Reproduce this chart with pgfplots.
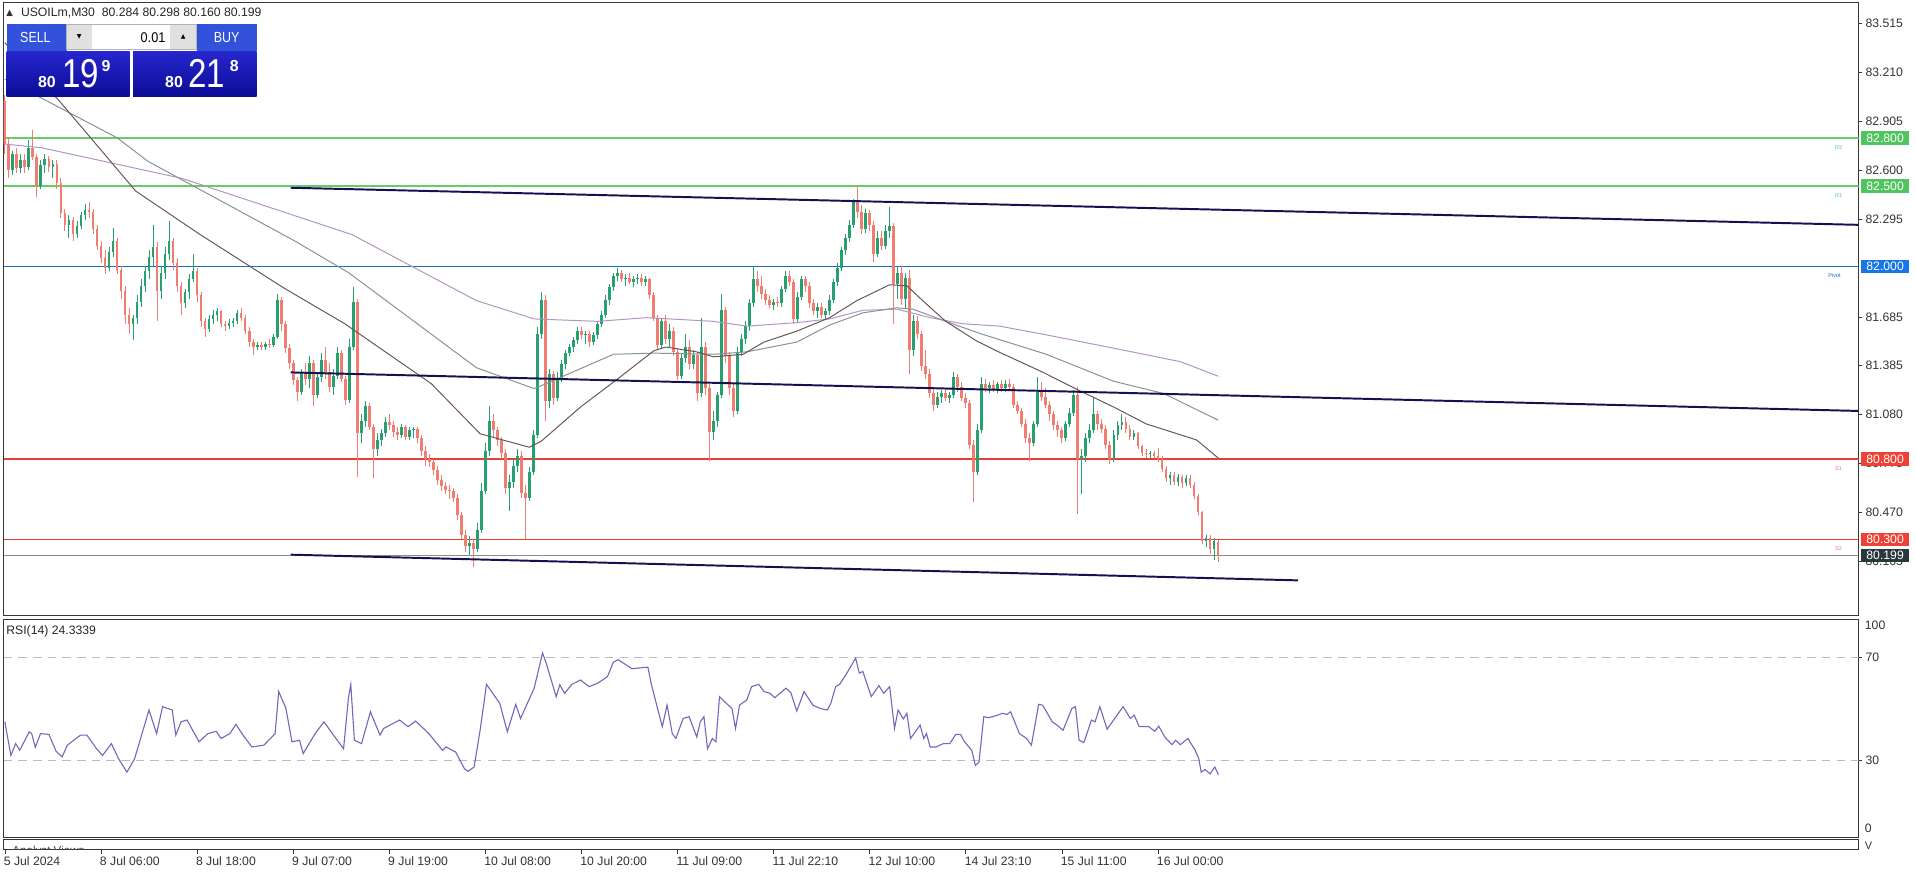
\documentclass[border=0pt]{standalone}
\usepackage{graphicx}
\usepackage{pgfplots}
\pgfplotsset{compat=1.18}
\usepackage{pgfplotstable}
\usepackage{fontspec}
\setmainfont{Liberation Sans}
\newfontfamily\dejavu{DejaVu Sans}

\definecolor{bullc}{RGB}{38,160,110}
\definecolor{bearc}{RGB}{240,125,112}
\definecolor{navyl}{RGB}{18,18,82}
\definecolor{greenl}{RGB}{102,204,102}
\definecolor{bluel}{RGB}{28,108,190}
\definecolor{redl}{RGB}{230,62,52}
\definecolor{maA}{RGB}{105,85,85}
\definecolor{maB}{RGB}{135,145,150}
\definecolor{maC}{RGB}{178,148,190}
\definecolor{rsic}{RGB}{118,102,186}
\definecolor{dashc}{RGB}{190,184,205}
\definecolor{framec}{RGB}{55,55,55}
\definecolor{gbox}{RGB}{80,196,96}
\definecolor{bbox}{RGB}{24,118,230}
\definecolor{rbox}{RGB}{236,66,56}
\definecolor{dbox}{RGB}{40,56,60}
\definecolor{btn}{RGB}{50,82,220}
\definecolor{pxtop}{RGB}{38,38,205}
\definecolor{pxbot}{RGB}{12,12,150}

\pgfplotstableread{
i o h l c
0 83.03 83.07 82.70 82.76
1 82.76 82.80 82.55 82.60
2 82.60 82.72 82.57 82.70
3 82.70 82.74 82.58 82.61
4 82.61 82.70 82.58 82.66
5 82.66 82.70 82.58 82.62
6 82.62 82.79 82.60 82.74
7 82.74 82.85 82.66 82.68
8 82.68 82.70 82.43 82.50
9 82.50 82.66 82.48 82.63
10 82.63 82.70 82.58 82.67
11 82.67 82.69 82.59 82.62
12 82.62 82.66 82.55 82.64
13 82.64 82.66 82.48 82.52
14 82.52 82.55 82.30 82.33
15 82.33 82.36 82.22 82.26
16 82.26 82.32 82.18 82.29
17 82.29 82.31 82.16 82.20
18 82.20 82.28 82.18 82.25
19 82.25 82.34 82.23 82.32
20 82.32 82.39 82.29 82.35
21 82.35 82.40 82.30 82.34
22 82.34 82.36 82.20 82.23
23 82.23 82.26 82.10 82.13
24 82.13 82.16 82.02 82.05
25 82.05 82.10 81.95 81.99
26 81.99 82.12 81.97 82.09
27 82.09 82.24 82.06 82.16
28 82.16 82.18 81.95 81.98
29 81.98 82.00 81.80 81.85
30 81.85 81.88 81.64 81.70
31 81.70 81.74 81.58 81.64
32 81.64 81.70 81.54 81.68
33 81.68 81.82 81.64 81.78
34 81.78 81.92 81.75 81.88
35 81.88 82.00 81.84 81.97
36 81.97 82.10 81.92 82.06
37 82.06 82.26 82.00 82.12
38 82.12 82.15 81.66 81.85
39 81.85 82.00 81.80 81.96
40 81.96 82.12 81.92 82.08
41 82.08 82.28 82.04 82.16
42 82.16 82.18 81.98 82.02
43 82.02 82.05 81.84 81.88
44 81.88 81.90 81.70 81.77
45 81.77 81.86 81.74 81.84
46 81.84 81.95 81.80 81.92
47 81.92 82.08 81.90 81.97
48 81.97 81.99 81.78 81.82
49 81.82 81.84 81.62 81.66
50 81.66 81.68 81.56 81.61
51 81.61 81.70 81.59 81.67
52 81.67 81.73 81.64 81.70
53 81.70 81.74 81.66 81.72
54 81.72 81.73 81.62 81.64
55 81.64 81.66 81.60 81.63
56 81.63 81.67 81.61 81.65
57 81.65 81.68 81.62 81.66
58 81.66 81.73 81.64 81.71
59 81.71 81.74 81.66 81.68
60 81.68 81.70 81.58 81.60
61 81.60 81.62 81.50 81.53
62 81.53 81.55 81.45 81.50
63 81.50 81.53 81.48 81.51
64 81.51 81.53 81.48 81.50
65 81.50 81.53 81.48 81.52
66 81.52 81.55 81.49 81.51
67 81.51 81.58 81.50 81.56
68 81.56 81.83 81.55 81.79
69 81.79 81.81 81.60 81.64
70 81.64 81.66 81.46 81.49
71 81.49 81.52 81.36 81.40
72 81.40 81.42 81.26 81.29
73 81.29 81.31 81.16 81.22
74 81.22 81.36 81.20 81.34
75 81.34 81.40 81.26 81.30
76 81.30 81.44 81.24 81.40
77 81.40 81.42 81.13 81.20
78 81.20 81.34 81.18 81.31
79 81.31 81.46 81.28 81.42
80 81.42 81.50 81.30 81.34
81 81.34 81.40 81.22 81.25
82 81.25 81.36 81.20 81.32
83 81.32 81.50 81.30 81.46
84 81.46 81.48 81.28 81.30
85 81.30 81.32 81.14 81.17
86 81.17 81.55 81.15 81.50
87 81.50 81.87 81.48 81.78
88 81.78 81.80 80.69 80.96
89 80.96 81.08 80.90 81.04
90 81.04 81.16 81.00 81.13
91 81.13 81.15 80.98 81.00
92 81.00 81.02 80.68 80.86
93 80.86 80.96 80.82 80.92
94 80.92 80.99 80.88 80.96
95 80.96 81.06 80.94 81.03
96 81.03 81.08 80.98 81.01
97 81.01 81.04 80.94 80.97
98 80.97 81.00 80.92 80.95
99 80.95 81.02 80.93 81.00
100 81.00 81.01 80.92 80.94
101 80.94 81.00 80.92 80.98
102 80.98 81.00 80.93 80.99
103 80.99 81.00 80.90 80.93
104 80.93 80.95 80.82 80.85
105 80.85 80.88 80.76 80.80
106 80.80 80.83 80.75 80.78
107 80.78 80.80 80.70 80.73
108 80.73 80.76 80.64 80.67
109 80.67 80.70 80.60 80.63
110 80.63 80.66 80.58 80.61
111 80.61 80.64 80.55 80.60
112 80.60 80.62 80.53 80.56
113 80.56 80.58 80.42 80.45
114 80.45 80.47 80.30 80.33
115 80.33 80.36 80.22 80.26
116 80.26 80.32 80.20 80.28
117 80.28 80.30 80.13 80.24
118 80.24 80.40 80.22 80.36
119 80.36 80.65 80.34 80.60
120 80.60 80.90 80.58 80.85
121 80.85 81.13 80.82 81.04
122 81.04 81.08 80.94 80.98
123 80.98 81.00 80.88 80.92
124 80.92 80.94 80.80 80.84
125 80.84 80.86 80.58 80.62
126 80.62 80.70 80.48 80.66
127 80.66 80.80 80.62 80.76
128 80.76 80.86 80.72 80.82
129 80.82 80.85 80.56 80.59
130 80.59 80.64 80.30 80.56
131 80.56 80.75 80.54 80.72
132 80.72 80.98 80.70 80.95
133 80.95 81.62 80.93 81.58
134 81.58 81.84 81.55 81.79
135 81.79 81.82 81.04 81.16
136 81.16 81.36 81.12 81.33
137 81.33 81.35 81.14 81.18
138 81.18 81.34 81.16 81.30
139 81.30 81.42 81.28 81.39
140 81.39 81.48 81.36 81.46
141 81.46 81.52 81.44 81.50
142 81.50 81.56 81.47 81.54
143 81.54 81.62 81.52 81.60
144 81.60 81.62 81.55 81.57
145 81.57 81.60 81.52 81.58
146 81.58 81.60 81.50 81.53
147 81.53 81.59 81.51 81.57
148 81.57 81.66 81.55 81.64
149 81.64 81.72 81.62 81.70
150 81.70 81.82 81.68 81.79
151 81.79 81.89 81.76 81.87
152 81.87 81.96 81.85 81.94
153 81.94 81.99 81.91 81.96
154 81.96 81.98 81.90 81.92
155 81.92 81.95 81.88 81.93
156 81.93 81.96 81.89 81.90
157 81.90 81.94 81.87 81.92
158 81.92 81.95 81.89 81.93
159 81.93 81.95 81.88 81.90
160 81.90 81.94 81.88 81.92
161 81.92 81.93 81.80 81.82
162 81.82 81.84 81.66 81.68
163 81.68 81.70 81.48 81.51
164 81.51 81.68 81.49 81.66
165 81.66 81.70 81.52 81.55
166 81.55 81.64 81.50 81.60
167 81.60 81.62 81.44 81.47
168 81.47 81.49 81.29 81.32
169 81.32 81.46 81.30 81.43
170 81.43 81.58 81.40 81.50
171 81.50 81.54 81.36 81.39
172 81.39 81.48 81.36 81.45
173 81.45 81.47 81.16 81.21
174 81.21 81.68 81.19 81.50
175 81.50 81.53 81.20 81.24
176 81.24 81.27 80.79 80.97
177 80.97 81.10 80.92 81.04
178 81.04 81.22 81.00 81.20
179 81.20 81.83 81.18 81.73
180 81.73 81.75 81.40 81.44
181 81.44 81.47 81.20 81.24
182 81.24 81.27 81.06 81.10
183 81.10 81.50 81.08 81.47
184 81.47 81.58 81.44 81.55
185 81.55 81.66 81.52 81.63
186 81.63 81.80 81.60 81.77
187 81.77 82.00 81.75 81.92
188 81.92 81.97 81.84 81.88
189 81.88 81.94 81.80 81.83
190 81.83 81.86 81.76 81.79
191 81.79 81.82 81.74 81.76
192 81.76 81.80 81.73 81.78
193 81.78 81.81 81.75 81.77
194 81.77 81.88 81.75 81.86
195 81.86 81.97 81.84 81.94
196 81.94 81.97 81.88 81.90
197 81.90 81.92 81.64 81.67
198 81.67 81.84 81.65 81.81
199 81.81 81.94 81.79 81.92
200 81.92 81.94 81.84 81.88
201 81.88 81.90 81.74 81.77
202 81.77 81.80 81.70 81.72
203 81.72 81.77 81.68 81.75
204 81.75 81.77 81.68 81.70
205 81.70 81.74 81.67 81.72
206 81.72 81.82 81.70 81.79
207 81.79 81.92 81.77 81.90
208 81.90 82.02 81.88 81.99
209 81.99 82.12 81.97 82.10
210 82.10 82.20 82.07 82.18
211 82.18 82.29 82.15 82.26
212 82.26 82.42 82.24 82.40
213 82.40 82.50 82.30 82.34
214 82.34 82.38 82.20 82.23
215 82.23 82.36 82.21 82.33
216 82.33 82.35 82.22 82.26
217 82.26 82.28 82.03 82.08
218 82.08 82.22 82.06 82.18
219 82.18 82.22 82.10 82.13
220 82.13 82.26 82.11 82.22
221 82.22 82.37 82.18 82.25
222 82.25 82.27 81.64 81.89
223 81.89 82.00 81.80 81.96
224 81.96 82.00 81.76 81.80
225 81.80 81.96 81.74 81.93
226 81.93 81.98 81.33 81.48
227 81.48 81.70 81.44 81.66
228 81.66 81.69 81.55 81.58
229 81.58 81.60 81.35 81.38
230 81.38 81.48 81.30 81.33
231 81.33 81.36 81.18 81.21
232 81.21 81.24 81.10 81.14
233 81.14 81.22 81.12 81.19
234 81.19 81.23 81.15 81.21
235 81.21 81.24 81.16 81.18
236 81.18 81.22 81.15 81.20
237 81.20 81.34 81.18 81.31
238 81.31 81.33 81.22 81.25
239 81.25 81.28 81.16 81.18
240 81.18 81.21 81.12 81.15
241 81.15 81.17 80.86 80.89
242 80.89 80.92 80.53 80.72
243 80.72 81.02 80.70 80.98
244 80.98 81.31 80.96 81.27
245 81.27 81.30 81.22 81.24
246 81.24 81.28 81.21 81.26
247 81.26 81.29 81.22 81.23
248 81.23 81.28 81.21 81.27
249 81.27 81.29 81.22 81.24
250 81.24 81.29 81.22 81.27
251 81.27 81.30 81.23 81.25
252 81.25 81.27 81.12 81.14
253 81.14 81.16 81.08 81.10
254 81.10 81.12 81.00 81.02
255 81.02 81.05 80.90 80.93
256 80.93 80.96 80.79 80.90
257 80.90 81.04 80.88 81.02
258 81.02 81.31 81.00 81.22
259 81.22 81.28 81.16 81.19
260 81.19 81.24 81.12 81.14
261 81.14 81.16 81.04 81.08
262 81.08 81.10 80.98 81.01
263 81.01 81.04 80.94 80.98
264 80.98 81.00 80.90 80.93
265 80.93 81.04 80.91 81.02
266 81.02 81.12 81.00 81.09
267 81.09 81.23 81.07 81.20
268 81.20 81.25 80.46 80.80
269 80.80 80.86 80.58 80.82
270 80.82 80.96 80.78 80.93
271 80.93 81.02 80.90 80.98
272 80.98 81.19 80.96 81.08
273 81.08 81.10 80.98 81.02
274 81.02 81.05 80.96 80.99
275 80.99 81.01 80.86 80.89
276 80.89 80.91 80.77 80.80
277 80.80 80.98 80.78 80.95
278 80.95 81.04 80.92 81.01
279 81.01 81.08 80.98 81.03
280 81.03 81.06 80.96 80.99
281 80.99 81.01 80.92 80.94
282 80.94 80.98 80.92 80.96
283 80.96 80.97 80.86 80.88
284 80.88 80.89 80.82 80.84
285 80.84 80.86 80.81 80.83
286 80.83 80.85 80.81 80.84
287 80.84 80.85 80.81 80.82
288 80.82 80.87 80.78 80.80
289 80.80 80.82 80.72 80.74
290 80.74 80.76 80.66 80.68
291 80.68 80.72 80.64 80.70
292 80.70 80.72 80.64 80.66
293 80.66 80.71 80.63 80.69
294 80.69 80.70 80.62 80.65
295 80.65 80.70 80.63 80.68
296 80.68 80.70 80.62 80.64
297 80.64 80.66 80.55 80.57
298 80.57 80.58 80.45 80.47
299 80.47 80.48 80.27 80.29
300 80.29 80.33 80.25 80.31
301 80.31 80.33 80.21 80.24
302 80.24 80.31 80.17 80.29
303 80.284 80.298 80.160 80.199
}\candles

\pgfplotsset{/pgf/number format/assume math mode=true}

\begin{document}
\begin{tikzpicture}[x=1pt,y=1pt]
\fill[white] (0pt,0pt) rectangle (1568pt,715pt);

% ---------------- main price panel ----------------
\begin{axis}[
  at={(3pt,211pt)}, anchor=south west, scale only axis,
  width=1518pt, height=502pt,
  xmin=-0.3, xmax=463, ymin=79.824, ymax=83.644,
  axis line style={framec, line width=0.8pt},
  xtick=\empty,
  ytick={83.515,83.210,82.905,82.600,82.295,81.685,81.385,81.080,80.775,80.470,80.165},
  yticklabels={83.515,83.210,82.905,82.600,82.295,81.685,81.385,81.080,80.775,80.470,80.165},
  ytick pos=right, yticklabel pos=right,
  tick align=outside, major tick length=3pt,
  tick style={framec, line width=0.5pt},
  yticklabel style={font=\fontsize{10}{11}\selectfont, text=black!80, inner sep=1pt, xshift=1.5pt},
]
% horizontal levels
\addplot[greenl, line width=1.5pt] coordinates {(-0.3,82.8) (463,82.8)};
\addplot[greenl, line width=1.5pt] coordinates {(-0.3,82.5) (463,82.5)};
\addplot[bluel, line width=1.5pt] coordinates {(-0.3,82.0) (463,82.0)};
\addplot[redl, line width=1.5pt] coordinates {(-0.3,80.8) (463,80.8)};
\addplot[redl, line width=1.5pt] coordinates {(-0.3,80.3) (463,80.3)};
\addplot[black!45, line width=0.6pt] coordinates {(-0.3,80.199) (463,80.199)};

% candle wicks
\addplot[draw=none, mark=none, forget plot,
  restrict expr to domain={\thisrow{c}-\thisrow{o}}{-100:0},
  error bars/.cd, y dir=plus, y explicit, error mark=none,
  error bar style={draw=bearc, line width=0.7pt}]
  table[x=i, y=l, y error expr=\thisrow{h}-\thisrow{l}] {\candles};
\addplot[draw=none, mark=none, forget plot,
  restrict expr to domain={\thisrow{c}-\thisrow{o}}{0:100},
  error bars/.cd, y dir=plus, y explicit, error mark=none,
  error bar style={draw=bullc, line width=0.7pt}]
  table[x=i, y=l, y error expr=\thisrow{h}-\thisrow{l}] {\candles};
% candle bodies
\addplot[draw=none, mark=none, forget plot,
  restrict expr to domain={\thisrow{c}-\thisrow{o}}{-100:0},
  error bars/.cd, y dir=plus, y explicit, error mark=none,
  error bar style={draw=bearc, line width=2.3pt}]
  table[x=i, y=c, y error expr=\thisrow{o}-\thisrow{c}] {\candles};
\addplot[draw=none, mark=none, forget plot,
  restrict expr to domain={\thisrow{c}-\thisrow{o}}{0:100},
  error bars/.cd, y dir=plus, y explicit, error mark=none,
  error bar style={draw=bullc, line width=2.3pt}]
  table[x=i, y=o, y error expr=\thisrow{c}-\thisrow{o}] {\candles};

% moving averages
\addplot[maC, line width=0.8pt] coordinates {(0,82.762) (9.2,82.739) (44.3,82.548) (86.7,82.198) (117.8,81.787) (132.2,81.673) (148.0,81.658) (160.3,81.681) (177.0,81.658) (185.3,81.628) (197.8,81.650) (206.0,81.673) (214.3,81.727) (222.8,81.734) (231.1,81.681) (239.3,81.643) (248.5,81.628) (260.1,81.574) (276.9,81.491) (293.6,81.407) (303.1,81.316)};
\addplot[maB, line width=0.8pt] coordinates {(0,83.165) (10.1,83.036) (28.1,82.80) (35.7,82.655) (72.3,82.160) (85.8,81.962) (117.8,81.369) (132.2,81.239) (135.2,81.270) (152.0,81.453) (162.1,81.460) (177.0,81.453) (185.3,81.468) (197.8,81.529) (206.0,81.635) (214.3,81.711) (222.8,81.742) (226.8,81.734) (235.0,81.658) (243.6,81.582) (260.1,81.453) (276.9,81.285) (289.4,81.209) (303.1,81.042)};
\addplot[maA, line width=0.8pt] coordinates {(0,83.393) (13.7,83.028) (32.7,82.469) (48.8,82.198) (69.6,81.867) (84.9,81.643) (106.5,81.270) (118.7,80.958) (131.0,80.874) (134.0,80.912) (143.8,81.125) (153.5,81.308) (162.1,81.475) (165.1,81.498) (172.8,81.468) (177.0,81.437) (184.4,81.453) (189.6,81.529) (197.8,81.597) (206.0,81.681) (212.8,81.787) (221.0,81.886) (225.3,81.879) (230.2,81.765) (235.0,81.658) (242.7,81.536) (247.6,81.475) (259.5,81.338) (268.6,81.224) (276.9,81.125) (285.1,81.019) (297.6,80.920) (303.1,80.806)};

% channel trendlines
\addplot[navyl, line width=1.6pt] coordinates {(71.4,82.490) (463,82.259)};
\addplot[navyl, line width=1.6pt] coordinates {(71.4,81.340) (463,81.100)};
\addplot[navyl, line width=1.6pt] coordinates {(71.4,80.205) (323,80.045)};

% small level names
\node[font=\fontsize{4.5}{5}\selectfont, text=black!40!green!60, anchor=north] at (axis cs:458,82.78) {R2};
\node[font=\fontsize{4.5}{5}\selectfont, text=black!40!green!60, anchor=north] at (axis cs:458,82.48) {R1};
\node[font=\fontsize{4.5}{5}\selectfont, text=bluel, anchor=north] at (axis cs:457,81.98) {Pivot};
\node[font=\fontsize{4.5}{5}\selectfont, text=redl!70, anchor=north] at (axis cs:458,80.78) {S1};
\node[font=\fontsize{4.5}{5}\selectfont, text=redl!70, anchor=north] at (axis cs:458,80.28) {S2};

\coordinate (Lr2) at (axis cs:463,82.8);
\coordinate (Lr1) at (axis cs:463,82.5);
\coordinate (Lpv) at (axis cs:463,82.0);
\coordinate (Ls1) at (axis cs:463,80.8);
\coordinate (Ls2) at (axis cs:463,80.3);
\coordinate (Lbid) at (axis cs:463,80.199);
\end{axis}

% ---------------- RSI panel ----------------
\begin{axis}[
  at={(3pt,30pt)}, anchor=south west, scale only axis,
  width=1518pt, height=178pt,
  xmin=-0.3, xmax=463, ymin=0, ymax=84.76,
  axis line style={framec, line width=0.8pt},
  xtick=\empty,
  ytick={30,70}, yticklabels={30,70},
  ytick pos=right, yticklabel pos=right,
  tick align=outside, major tick length=3pt,
  tick style={framec, line width=0.5pt},
  yticklabel style={font=\fontsize{10}{11}\selectfont, text=black!80, inner sep=1pt, xshift=1.5pt},
]
\addplot[dashc, line width=0.7pt, dash pattern=on 7pt off 5pt] coordinates {(-0.3,70) (463,70)};
\addplot[dashc, line width=0.7pt, dash pattern=on 7pt off 5pt] coordinates {(-0.3,30) (463,30)};
\addplot[rsic, line width=0.9pt] coordinates {(0,44.9) (1.5,31.8) (2.7,36.4) (3.7,33.8) (6.1,41.0) (6.7,40.3) (7.6,35.0) (8.9,40.3) (11.0,40.0) (12.8,33.4) (14.3,31.2) (15.6,35.8) (18.9,39.7) (20.5,39.7) (22.9,34.4) (24.4,31.8) (26.6,36.4) (28.4,30.5) (30.5,25.3) (32.4,30.5) (36.0,49.5) (37.9,40.3) (39.4,50.8) (41.8,49.5) (42.7,39.7) (44.0,44.9) (45.5,45.6) (48.5,37.1) (50.7,40.3) (52.8,41.2) (54.0,38.4) (56.2,40.3) (57.7,43.9) (59.5,39.7) (61.7,35.1) (64.7,35.8) (67.5,40.3) (68.4,56.7) (70.2,50.1) (71.7,37.1) (73.6,37.7) (74.5,32.5) (77.5,40.3) (79.7,44.9) (81.8,40.3) (84.6,34.4) (85.8,54.1) (86.4,59.5) (87.3,37.7) (89.1,36.4) (91.3,48.8) (93.7,39.7) (94.6,42.3) (98.6,45.6) (100.7,43.0) (102.6,45.2) (105.9,40.3) (109.3,33.8) (110.2,35.1) (112.6,33.1) (114.8,26.6) (115.7,25.6) (117.2,27.3) (118.7,41.6) (120.3,59.5) (123.6,52.1) (125.5,41.0) (127.6,51.7) (128.8,46.2) (132.2,58.0) (134.3,71.7) (135.2,67.8) (137.7,54.7) (138.6,59.3) (139.8,56.0) (141.6,59.5) (143.8,61.2) (145.9,58.6) (148.0,59.9) (150.5,62.5) (152.0,68.2) (153.2,69.1) (156.6,65.6) (160.6,66.2) (161.5,59.3) (164.2,43.0) (165.4,51.4) (166.7,40.3) (167.6,38.4) (169.4,46.2) (170.9,46.9) (172.8,39.0) (173.7,44.9) (174.6,46.9) (175.5,34.4) (176.7,38.4) (177.6,37.1) (178.5,54.7) (179.8,52.7) (181.6,50.1) (182.5,42.3) (183.5,51.4) (185.3,53.4) (186.5,58.6) (188.3,59.5) (189.6,56.7) (191.1,56.0) (192.3,54.3) (195.1,58.0) (196.3,56.3) (197.8,49.1) (199.6,56.7) (201.8,51.4) (203.6,50.1) (205.4,49.5) (206.3,52.1) (207.5,58.6) (208.5,59.5) (210.3,63.9) (212.5,69.7) (213.4,63.9) (214.3,64.5) (216.4,54.7) (218.3,59.0) (219.5,56.0) (221.0,58.6) (222.2,42.3) (223.1,49.5) (224.4,46.0) (225.3,48.2) (226.2,38.4) (228.6,43.6) (229.5,38.4) (230.2,40.3) (231.1,35.1) (232.6,35.1) (234.4,36.4) (236.0,36.4) (237.5,40.0) (238.7,40.0) (239.6,37.3) (241.5,33.8) (242.4,27.9) (243.3,29.2) (244.5,46.9) (245.7,46.5) (247.6,47.3) (249.1,48.2) (250.3,47.8) (251.2,48.8) (253.4,40.3) (255.2,38.4) (256.4,35.8) (258.2,51.7) (259.2,51.4) (261.6,44.9) (262.8,43.6) (264.3,41.6) (266.5,50.1) (267.4,50.8) (268.3,37.7) (269.5,36.8) (271.4,45.6) (272.3,44.9) (273.5,50.8) (275.3,42.0) (277.5,46.9) (279.3,50.8) (281.1,46.2) (282.1,47.5) (283.3,43.0) (285.7,43.0) (287.2,41.2) (288.2,43.2) (289.7,39.0) (291.5,36.0) (292.4,37.7) (293.6,36.0) (295.5,38.4) (297.3,33.8) (298.2,30.5) (298.8,25.3) (299.8,26.3) (301.0,24.6) (302.2,27.3) (303.1,24.3)};
\end{axis}

% ---------------- Analyst Views strip with time axis ----------------
\begin{axis}[
  at={(3pt,19.4pt)}, anchor=south west, scale only axis,
  width=1518pt, height=8.6pt,
  xmin=-0.3, xmax=463, ymin=0, ymax=1,
  axis line style={framec, line width=0.8pt},
  ytick=\empty,
  xtick={0,24,48,72,96,120,144,168,192,216,240,264,288},
  xticklabels={5 Jul 2024,8 Jul 06:00,8 Jul 18:00,9 Jul 07:00,9 Jul 19:00,10 Jul 08:00,10 Jul 20:00,11 Jul 09:00,11 Jul 22:10,12 Jul 10:00,14 Jul 23:10,15 Jul 11:00,16 Jul 00:00},
  xtick pos=left, tick align=outside, major tick length=3pt,
  tick style={framec, line width=0.5pt},
  xticklabel style={anchor=north west, font=\fontsize{10}{11}\selectfont, text=black!80, inner sep=0pt, xshift=-1pt, yshift=-2pt},
]
\addplot[draw=none, forget plot] coordinates {(0,0.5)};
\end{axis}

\begin{scope}
\clip (3pt,19.8pt) rectangle (1521pt,27.6pt);
\node[anchor=north west, inner sep=0pt, font=\fontsize{9.5}{10}\selectfont, text=black!70] at (10pt,23pt) {Analyst Views};
\end{scope}

% right side labels of lower panels
\node[anchor=west, inner sep=0pt, font=\fontsize{10}{11}\selectfont, text=black!80] at (1526pt,203pt) {100};
\node[anchor=west, inner sep=0pt, font=\fontsize{10}{11}\selectfont, text=black!80] at (1526pt,37pt) {0};
\node[anchor=west, inner sep=0pt, font=\fontsize{9}{10}\selectfont, text=black!80] at (1526pt,23pt) {V};
\node[anchor=west, inner sep=0pt, font=\fontsize{10}{11}\selectfont, text=black!85] at (5pt,198pt) {RSI(14) 24.3339};

% price label boxes
\tikzset{pbox/.style={anchor=west, fill=#1, text=white, inner sep=0pt, minimum height=11pt, minimum width=39pt, font=\fontsize{10}{10}\selectfont}}
\node[pbox=gbox] at ([xshift=2pt]Lr2) {82.800};
\node[pbox=gbox] at ([xshift=2pt]Lr1) {82.500};
\node[pbox=bbox] at ([xshift=2pt]Lpv) {82.000};
\node[pbox=rbox] at ([xshift=2pt]Ls1) {80.800};
\node[pbox=rbox] at ([xshift=2pt]Ls2) {80.300};
\node[pbox=dbox] at ([xshift=2pt]Lbid) {80.199};

% title line
\node[anchor=west, inner sep=0pt, font=\dejavu\fontsize{7}{8}\selectfont, text=black!80] at (5pt,704pt) {▲};
\node[anchor=west, inner sep=0pt, font=\fontsize{10}{11}\selectfont, text=black!85] at (17pt,704pt) {USOILm,M30\ \ 80.284 80.298 80.160 80.199};

% one-click trading panel
\shade[top color=pxtop, bottom color=pxbot] (5.5pt,636pt) rectangle (106pt,672.5pt);
\shade[top color=pxtop, bottom color=pxbot] (109pt,636pt) rectangle (210pt,672.5pt);
\fill[btn] (5.5pt,673.5pt) rectangle (54.6pt,695pt);
\fill[btn] (161pt,673.5pt) rectangle (210pt,695pt);
\fill[white] (54.6pt,674.5pt) rectangle (161pt,695pt);
\fill[black!12] (54.6pt,674.5pt) rectangle (75pt,695pt);
\fill[black!12] (139pt,674.5pt) rectangle (161pt,695pt);
\draw[black!30, line width=0.5pt] (54.6pt,674.5pt) rectangle (161pt,695pt);
\node[text=white, inner sep=0pt, font=\fontsize{12}{13}\selectfont] at (29pt,684.5pt) {\scalebox{0.85}[1]{SELL}};
\node[text=white, inner sep=0pt, font=\fontsize{12}{13}\selectfont] at (185.5pt,684.5pt) {\scalebox{0.85}[1]{BUY}};
\node[anchor=east, inner sep=0pt, font=\fontsize{11.5}{12}\selectfont] at (135.5pt,684.5pt) {\scalebox{0.9}[1]{0.01}};
\node[inner sep=0pt, font=\dejavu\fontsize{5}{6}\selectfont] at (64.8pt,684.5pt) {▼};
\node[inner sep=0pt, font=\dejavu\fontsize{5}{6}\selectfont] at (150pt,684.5pt) {▲};
\node[anchor=base west, inner sep=0pt, text=white, font=\bfseries\fontsize{13}{14}\selectfont] at (31pt,643pt) {80};
\node[anchor=base west, inner sep=0pt, text=white, font=\fontsize{33}{34}\selectfont] at (51pt,643pt) {\scalebox{0.82}[1]{19}};
\node[anchor=base west, inner sep=0pt, text=white, font=\bfseries\fontsize{13}{14}\selectfont] at (83pt,656.5pt) {9};
\node[anchor=base west, inner sep=0pt, text=white, font=\bfseries\fontsize{13}{14}\selectfont] at (135pt,643pt) {80};
\node[anchor=base west, inner sep=0pt, text=white, font=\fontsize{33}{34}\selectfont] at (154pt,643pt) {\scalebox{0.82}[1]{21}};
\node[anchor=base west, inner sep=0pt, text=white, font=\bfseries\fontsize{13}{14}\selectfont] at (188pt,656.5pt) {8};

\pgfresetboundingbox
\path[use as bounding box] (0pt,0pt) rectangle (1568pt,715pt);
\end{tikzpicture}
\end{document}
